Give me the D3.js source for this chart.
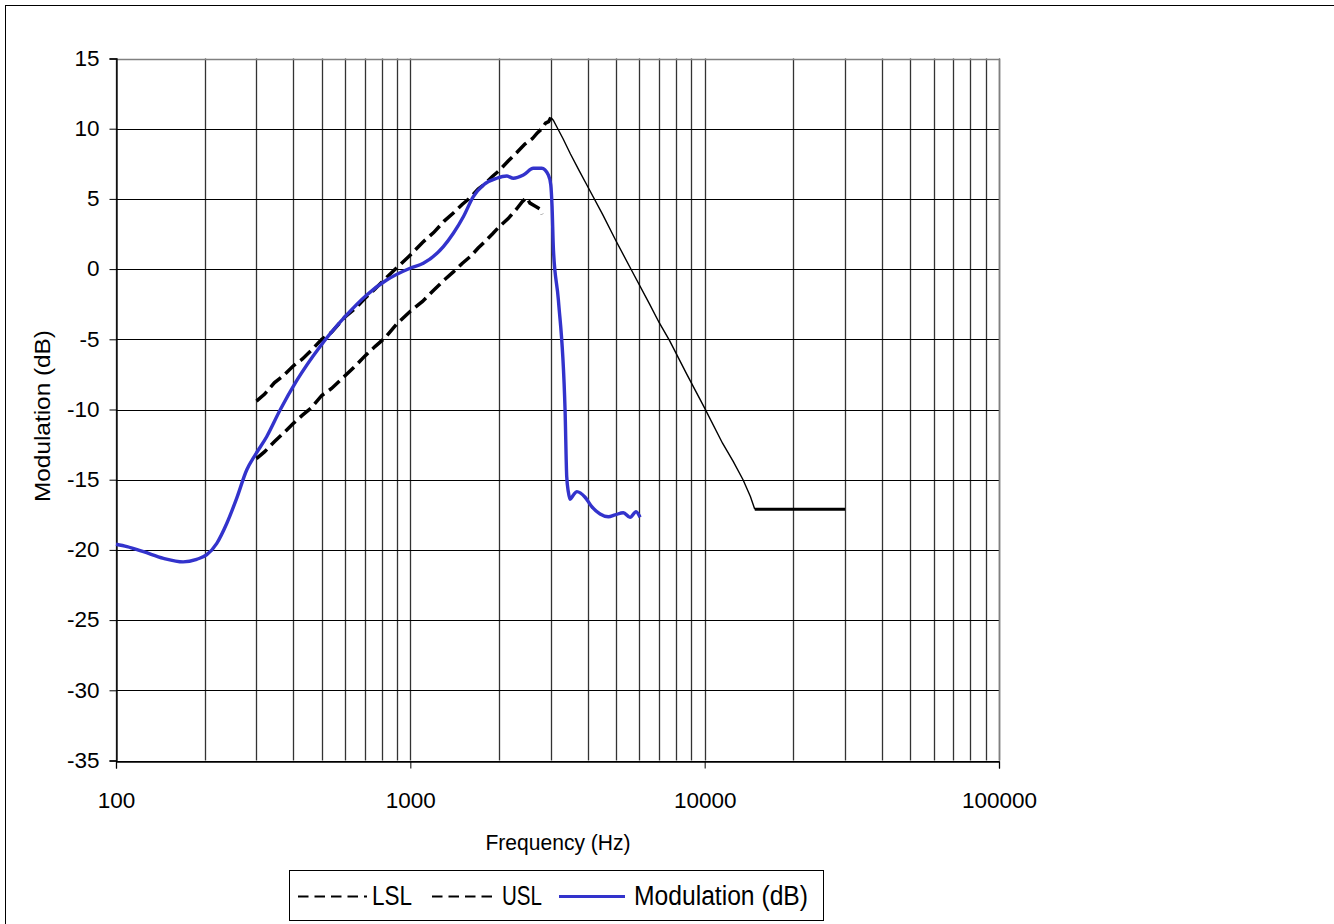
<!DOCTYPE html>
<html>
<head>
<meta charset="utf-8">
<script src="https://cdn.jsdelivr.net/npm/d3@7"></script>
<style>
  body { margin: 0; background: #fff; }
  text { font-family: "Liberation Sans", Arial, sans-serif; fill: #000; }
</style>
</head>
<body>
<div id="vis"></div>
<script>
// Modulation (dB) measured curve
const modFreq = [100, 109, 124, 145, 169, 188, 203, 220, 238, 257, 278, 297, 325, 361, 411, 493, 600, 711, 831, 998,
  1107, 1295, 1400, 1514, 1637, 1771, 1966, 2126, 2239, 2421, 2618, 2796, 2944, 3000, 3030, 3063, 3184, 3355, 3399,
  3444, 3489, 3580, 3677, 3924, 4134, 4413, 4708, 4962, 5294, 5579, 5848, 6032];
const modDb = [-19.6, -19.77, -20.13, -20.6, -20.85, -20.67, -20.36, -19.53, -18.1, -16.33, -14.31, -13.24, -11.94, -10.04,
  -7.95, -5.53, -3.39, -1.84, -0.78, 0.06, 0.41, 1.6, 2.55, 3.73, 5.16, 5.99, 6.47, 6.63, 6.47, 6.7, 7.18, 7.18, 6.7,
  6.0, 4.5, 1.4, -2.2, -10.04, -14.78, -15.9, -16.4, -16.1, -15.85, -16.25, -16.92, -17.44, -17.64, -17.51, -17.35,
  -17.68, -17.28, -17.68];

// USL (upper limit), rising part
const uslFreq = [300, 320, 345, 370, 400, 430, 460, 500, 540, 600, 650, 700, 760, 820, 900, 1000, 1100, 1200, 1300,
  1400, 1500, 1600, 1700, 1800, 1900, 2000, 2150, 2300, 2450, 2600, 2700, 2800, 2880, 2950, 3000];
const uslDb = [-9.4, -8.9, -8.1, -7.6, -6.9, -6.4, -5.8, -5.0, -4.5, -3.4, -2.8, -2.1, -1.4, -0.7, 0.1, 1.0, 1.9, 2.6,
  3.4, 4.0, 4.6, 5.1, 5.7, 6.1, 6.6, 7.0, 7.7, 8.3, 8.9, 9.3, 9.7, 10.0, 10.4, 10.5, 10.8];

// USL roll-off above 3 kHz and the flat floor
const fallFreq = [3000, 3060, 3150, 3300, 3500, 3750, 4000, 4500, 5000, 5650, 6500, 7000, 7600, 8700, 10000, 11500,
  12500, 13500, 14300, 14800];
const fallDb = [10.8, 10.6, 10.1, 9.3, 8.2, 7.0, 5.9, 3.9, 2.0, -0.1, -2.5, -3.8, -5.1, -7.5, -9.9, -12.4, -13.7, -15.0,
  -16.2, -17.1];
const floorFreq = [14800, 30000];
const floorDb = [-17.1, -17.1];

// LSL (lower limit)
const lslFreq = [300, 320, 345, 370, 400, 430, 460, 500, 540, 600, 650, 700, 760, 820, 900, 1000, 1100, 1200, 1300,
  1400, 1500, 1600, 1700, 1800, 1900, 2000, 2150, 2300, 2400, 2480, 2550, 2650, 2750, 2800];
const lslDb = [-13.5, -13.0, -12.3, -11.7, -11.0, -10.4, -9.9, -9.0, -8.5, -7.6, -6.9, -6.2, -5.5, -4.9, -3.9, -3.0,
  -2.3, -1.5, -0.8, -0.2, 0.4, 0.9, 1.5, 2.0, 2.5, 3.0, 3.6, 4.3, 4.8, 5.1, 4.7, 4.5, 4.3, 3.9];

const xTicks = [100, 1000, 10000, 100000];
const yTicks = [-35, -30, -25, -20, -15, -10, -5, 0, 5, 10, 15];
const legendNames = ["LSL", "USL", "Modulation (dB)"];

const width = 1334;
const height = 924;
const plot = { left: 116, right: 999, top: 58.5, bottom: 760.5 };

const x = d3.scaleLog().domain([100, 100000]).range([plot.left, plot.right]);
const y = d3.scaleLinear().domain([-35, 15]).range([plot.bottom, plot.top]);

const svg = d3.select("#vis").append("svg")
  .attr("width", width)
  .attr("height", height);

// outer chart frame (runs off right / bottom)
svg.append("rect")
  .attr("x", 5.5).attr("y", 5.5)
  .attr("width", 1400).attr("height", 1000)
  .attr("fill", "none").attr("stroke", "#000");

// minor + major vertical grid
const vGrid = [];
for (let dec = 100; dec < 100000; dec *= 10) {
  for (let k = 1; k < 10; k++) vGrid.push(dec * k);
}
vGrid.push(100000);

svg.append("g")
  .selectAll("line")
  .data(vGrid)
  .join("line")
  .attr("x1", (d) => Math.round(x(d)) + 0.5)
  .attr("x2", (d) => Math.round(x(d)) + 0.5)
  .attr("y1", plot.top)
  .attr("y2", plot.bottom)
  .attr("stroke", "#333")
  .attr("stroke-width", 1.3);

svg.append("g")
  .selectAll("line")
  .data(yTicks)
  .join("line")
  .attr("x1", plot.left)
  .attr("x2", plot.right)
  .attr("y1", (d) => Math.round(y(d)) + 0.5)
  .attr("y2", (d) => Math.round(y(d)) + 0.5)
  .attr("stroke", "#000")
  .attr("stroke-width", 1.2);

// plot border: grey top/right
svg.append("path")
  .attr("d", `M${plot.left},${Math.round(plot.top) + 0.5}H${Math.round(plot.right) + 0.5}V${plot.bottom}`)
  .attr("fill", "none")
  .attr("stroke", "#808080")
  .attr("stroke-width", 1.5);

// axes
const xAxis = svg.append("g")
  .attr("transform", `translate(0,${Math.round(plot.bottom) + 0.5})`)
  .call(d3.axisBottom(x).tickValues(xTicks).tickFormat((d) => String(d)).tickSize(7).tickPadding(24));
const yAxis = svg.append("g")
  .attr("transform", `translate(${plot.left + 0.5},0)`)
  .call(d3.axisLeft(y).tickValues(yTicks).tickFormat((d) => String(d)).tickSize(7).tickPadding(10));

[xAxis, yAxis].forEach((g) => {
  g.select(".domain").attr("stroke", "#000").attr("stroke-width", 1.3);
  g.selectAll(".tick line").attr("stroke", "#000");
  g.selectAll(".tick text")
    .style("font-family", '"Liberation Sans", Arial, sans-serif')
    .style("font-size", "22.5px")
    .attr("fill", "#000");
});
yAxis.selectAll(".tick text").attr("dy", "0.3em");

// axis titles
svg.append("text")
  .attr("x", 558).attr("y", 850)
  .attr("text-anchor", "middle")
  .style("font-size", "22px")
  .attr("textLength", 145)
  .attr("lengthAdjust", "spacingAndGlyphs")
  .text("Frequency (Hz)");

svg.append("text")
  .attr("transform", "translate(50,416) rotate(-90)")
  .attr("text-anchor", "middle")
  .style("font-size", "22px")
  .attr("textLength", 172)
  .attr("lengthAdjust", "spacingAndGlyphs")
  .text("Modulation (dB)");

// series
const pts = (fs, vs) => fs.map((f, i) => [x(f), y(vs[i])]);
const straight = d3.line();
const smooth = d3.line().curve(d3.curveMonotoneX);

svg.append("path")
  .attr("d", straight(pts(lslFreq, lslDb)))
  .attr("fill", "none").attr("stroke", "#000")
  .attr("stroke-width", 3.5).attr("stroke-dasharray", "14,6");

svg.append("path")
  .attr("d", straight(pts(uslFreq, uslDb)))
  .attr("fill", "none").attr("stroke", "#000")
  .attr("stroke-width", 3.5).attr("stroke-dasharray", "14,6");

svg.append("path")
  .attr("d", straight(pts(fallFreq, fallDb)))
  .attr("fill", "none").attr("stroke", "#000")
  .attr("stroke-width", 1.4);

svg.append("path")
  .attr("d", straight(pts(floorFreq, floorDb)))
  .attr("fill", "none").attr("stroke", "#000")
  .attr("stroke-width", 3);

svg.append("path")
  .attr("d", smooth(pts(modFreq, modDb)))
  .attr("fill", "none").attr("stroke", "#3333CC")
  .attr("stroke-width", 3.4)
  .attr("stroke-linejoin", "round");

// legend
const legend = svg.append("g");
legend.append("rect")
  .attr("x", 289.5).attr("y", 870.5)
  .attr("width", 534).attr("height", 50)
  .attr("fill", "#fff").attr("stroke", "#000");

const legendItems = [
  { name: legendNames[0], x0: 298, x1: 367, tx: 372, tw: 40, dash: "10.5,6", color: "#000", w: 2 },
  { name: legendNames[1], x0: 432, x1: 496, tx: 502, tw: 40, dash: "10.5,6", color: "#000", w: 2 },
  { name: legendNames[2], x0: 559, x1: 625, tx: 634, tw: 174, dash: null, color: "#3333CC", w: 3 },
];

legendItems.forEach((d) => {
  legend.append("line")
    .attr("x1", d.x0).attr("x2", d.x1)
    .attr("y1", 896.5).attr("y2", 896.5)
    .attr("stroke", d.color)
    .attr("stroke-width", d.w)
    .attr("stroke-dasharray", d.dash);
  legend.append("text")
    .attr("x", d.tx).attr("y", 905)
    .style("font-size", "27px")
    .attr("textLength", d.tw)
    .attr("lengthAdjust", "spacingAndGlyphs")
    .text(d.name);
});
</script>
</body>
</html>
